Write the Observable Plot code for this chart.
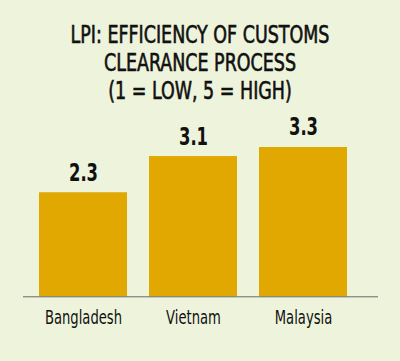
<!DOCTYPE html>
<html><head><meta charset="utf-8">
<script src="https://cdn.jsdelivr.net/npm/d3@7"></script>
<script src="https://cdn.jsdelivr.net/npm/@observablehq/plot@0.6"></script>
<style>
html,body{margin:0;padding:0;background:#eef4dc;}
body{width:400px;height:361px;overflow:hidden;}
#title{font-family:"DejaVu Sans Condensed","DejaVu Sans",sans-serif;font-size:24px;line-height:28px;text-align:center;color:#111;padding-top:20.7px;height:84px;transform:scale(0.81,1.0);-webkit-text-stroke:0.6px #111;}
#title div{height:28px;white-space:nowrap;}
#chart svg{display:block;}
</style></head><body>
<div id="title"><div>LPI: EFFICIENCY OF CUSTOMS</div><div>CLEARANCE PROCESS</div><div>(1 = LOW, 5 = HIGH)</div></div>
<div id="chart"></div>
<script>
const countries = ["Bangladesh", "Vietnam", "Malaysia"];
const scores = [2.3, 3.1, 3.3];
const valueLabels = ["2.3", "3.1", "3.3"];
const data = countries.map((c, i) => ({country: c, score: scores[i], label: valueLabels[i]}));
const chart = Plot.plot({
  width: 400, height: 256.3,
  marginTop: 42, marginBottom: 65, marginLeft: 23, marginRight: 22,
  style: {background: "transparent", fontFamily: "'DejaVu Sans Condensed', 'DejaVu Sans', sans-serif", color: "#111"},
  x: {domain: countries, paddingInner: 0.2, paddingOuter: 0.2136, align: 0.35, label: null},
  y: {domain: [0, d3.max(scores)], axis: null},
  marks: [
    Plot.barY(data, {x: "country", y: "score", fill: "#e0a800"}),
    Plot.text(data, {x: "country", y: "score", text: "label", dy: -12, lineAnchor: "bottom", fontSize: 24, fontWeight: "bold", fill: "#111", className: "vlabel"}),
    Plot.ruleY([0], {stroke: "#666", strokeWidth: 1}),
    Plot.axisX({tickSize: 0, tickPadding: 13, fontSize: 19.5, label: null, fill: "#111", stroke: "#111", strokeWidth: 0.35, className: "xlabel"})
  ]
});
chart.querySelectorAll("text").forEach(t => {
  const tr = t.getAttribute("transform");
  const inVal = t.closest(".vlabel");
  const s = inVal ? 0.76 : 0.75;
  if (tr) t.setAttribute("transform", tr + ` scale(${s},1)`);
});
document.getElementById("chart").appendChild(chart);
</script>
</body></html>
